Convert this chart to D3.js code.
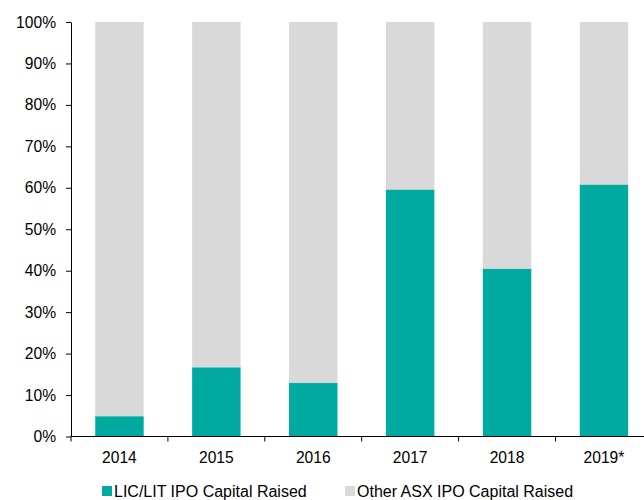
<!DOCTYPE html>
<html>
<head>
<meta charset="utf-8">
<script src="https://cdn.jsdelivr.net/npm/d3@7"></script>
<style>
  body { margin: 0; background: #fff; }
  svg text { font-family: "Liberation Sans", Arial, sans-serif; fill: #000; }
  .axis path, .axis line { stroke: #000; }
</style>
</head>
<body>
<div id="chart"></div>
<script>
var years = ["2014", "2015", "2016", "2017", "2018", "2019*"];
var licShare = [0.049, 0.167, 0.129, 0.596, 0.405, 0.608];
var seriesNames = ["LIC/LIT IPO Capital Raised", "Other ASX IPO Capital Raised"];
var colors = ["#00aaa1", "#d9d9d9"];
var yTicks = [0, 0.1, 0.2, 0.3, 0.4, 0.5, 0.6, 0.7, 0.8, 0.9, 1.0];

var width = 644, height = 500;
var margin = {top: 22, left: 71, bottom: 63.5};

var svg = d3.select("#chart").append("svg")
    .attr("width", width)
    .attr("height", height);

var rows = years.map(function (y, i) {
    return {year: y, lic: licShare[i], other: 1 - licShare[i]};
});
var stacked = d3.stack().keys(["lic", "other"])(rows);

var x = d3.scaleBand()
    .domain(years)
    .range([margin.left, margin.left + 6 * 96.9])
    .paddingInner(0.5)
    .paddingOuter(0.25);

var y = d3.scaleLinear()
    .domain([0, 1])
    .range([height - margin.bottom, margin.top]);

// bars
svg.append("g")
    .selectAll("g")
    .data(stacked)
    .enter().append("g")
    .attr("fill", function (d, i) { return colors[i]; })
    .selectAll("rect")
    .data(function (d) { return d; })
    .enter().append("rect")
    .attr("x", function (d) { return x(d.data.year); })
    .attr("width", x.bandwidth())
    .attr("y", function (d) { return y(d[1]); })
    .attr("height", function (d) { return y(d[0]) - y(d[1]); });

// y axis
var gY = svg.append("g")
    .attr("class", "axis")
    .attr("transform", "translate(" + margin.left + ",0)")
    .call(d3.axisLeft(y)
        .tickValues(yTicks)
        .tickFormat(d3.format(".0%"))
        .tickSize(5)
        .tickSizeOuter(0)
        .tickPadding(10));
gY.selectAll("text").style("font-size", "15.6px");

// x axis with ticks between categories
var gX = svg.append("g")
    .attr("class", "axis")
    .attr("transform", "translate(0," + y(0) + ")");
gX.append("line")
    .attr("x1", margin.left).attr("x2", width)
    .attr("y1", 0).attr("y2", 0);
var step = x.step();
gX.selectAll(".sep")
    .data(years)
    .enter().append("line")
    .attr("x1", function (d) { return x(d) - x.paddingOuter() * step; })
    .attr("x2", function (d) { return x(d) - x.paddingOuter() * step; })
    .attr("y1", 0).attr("y2", 5);
gX.selectAll("text")
    .data(years)
    .enter().append("text")
    .attr("x", function (d) { return x(d) + x.bandwidth() / 2; })
    .attr("y", 26)
    .attr("text-anchor", "middle")
    .style("font-size", "15.6px")
    .text(function (d) { return d; });

// legend
var legendX = [102, 345];
var legend = svg.append("g")
    .selectAll("g")
    .data(seriesNames)
    .enter().append("g")
    .attr("transform", function (d, i) { return "translate(" + legendX[i] + ",486)"; });
legend.append("rect")
    .attr("width", 10).attr("height", 10)
    .attr("fill", function (d, i) { return colors[i]; });
legend.append("text")
    .attr("x", 12)
    .attr("y", 11)
    .style("font-size", "16px")
    .text(function (d) { return d; });
</script>
</body>
</html>
